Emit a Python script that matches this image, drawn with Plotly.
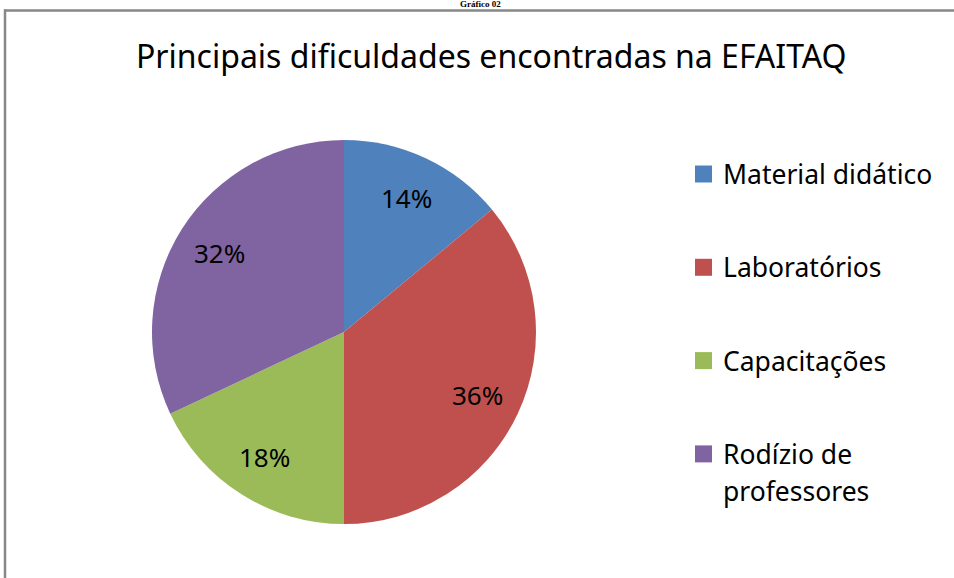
import math
import plotly.graph_objects as go

# ---- data ----
labels = ["Material didático", "Laboratórios", "Capacitações", "Rodízio de<br>professores"]
values = [14, 36, 18, 32]
colors = ["#4F81BD", "#C0504D", "#9BBB59", "#8064A2"]
title_text = "Principais dificuldades encontradas na EFAITAQ"
caption_text = "Gráfico 02"

W, H = 954, 578
FONT = "Noto Sans"

# pie geometry in pixels
cx, cy, r = 344, 332, 192

def px(x):
    return x / W

def py(y):
    return 1 - y / H

fig = go.Figure()
fig.add_trace(go.Pie(
    labels=[l.replace("<br>", " ") for l in labels],
    values=values,
    marker=dict(colors=colors, line=dict(width=0)),
    sort=False,
    direction="clockwise",
    rotation=0,
    textinfo="none",
    showlegend=False,
    hoverinfo="label+percent",
    domain=dict(x=[px(cx - r), px(cx + r)], y=[py(cy + r), py(cy - r)]),
))

annotations = []
# slice percentage labels
total = sum(values)
cum = 0
for v in values:
    mid = (cum + v / 2) / total
    ang = math.radians(90 - 360 * mid)
    rr = 0.77 * r
    x = cx + rr * math.cos(ang)
    y = cy - rr * math.sin(ang)
    annotations.append(dict(
        x=px(x), y=py(y), xref="paper", yref="paper",
        text=f"{round(100 * v / total)}%", showarrow=False,
        font=dict(family=FONT, size=26, color="#000000"),
        xanchor="center", yanchor="middle",
    ))
    cum += v

# legend (manual)
shapes = []
leg_x0, leg_y0, step, sq = 695, 174, 93.3, 17
for i, (lab, col) in enumerate(zip(labels, colors)):
    yc = leg_y0 + i * step
    shapes.append(dict(type="rect", xref="paper", yref="paper",
                       x0=px(leg_x0), x1=px(leg_x0 + sq),
                       y0=py(yc + sq / 2), y1=py(yc - sq / 2),
                       fillcolor=col, line=dict(width=0)))
    for j, line in enumerate(lab.split("<br>")):
        annotations.append(dict(
            x=px(721), y=py(yc + j * 37), xref="paper", yref="paper",
            text=line, showarrow=False,
            font=dict(family=FONT, size=26.5, color="#000000"),
            xanchor="left", yanchor="middle",
        ))

# title
annotations.append(dict(
    x=px(491), y=py(55), xref="paper", yref="paper",
    text=title_text, showarrow=False,
    font=dict(family=FONT, size=32, color="#000000"),
    xanchor="center", yanchor="middle",
))
# caption at top edge (mostly cut in the original)
annotations.append(dict(
    x=px(480), y=py(4.5), xref="paper", yref="paper",
    text="<b>" + caption_text + "</b>", showarrow=False,
    font=dict(family="Liberation Serif", size=9, color="#000000"),
    xanchor="center", yanchor="middle", borderpad=0,
))

# border lines
shapes.append(dict(type="line", xref="paper", yref="paper",
                   x0=px(4), x1=1.0, y0=py(10.5), y1=py(10.5),
                   line=dict(color="#878787", width=2.5)))
shapes.append(dict(type="line", xref="paper", yref="paper",
                   x0=px(5), x1=px(5), y0=py(9.5), y1=0,
                   line=dict(color="#878787", width=2.5)))

fig.update_layout(
    width=W, height=H,
    margin=dict(l=0, r=0, t=0, b=0),
    paper_bgcolor="white", plot_bgcolor="white",
    annotations=annotations, shapes=shapes,
    showlegend=False,
)

fig.write_html(
    "out.html",
    config={"displayModeBar": False},
    post_script="document.body.style.margin='0';document.body.style.overflow='hidden';",
)
